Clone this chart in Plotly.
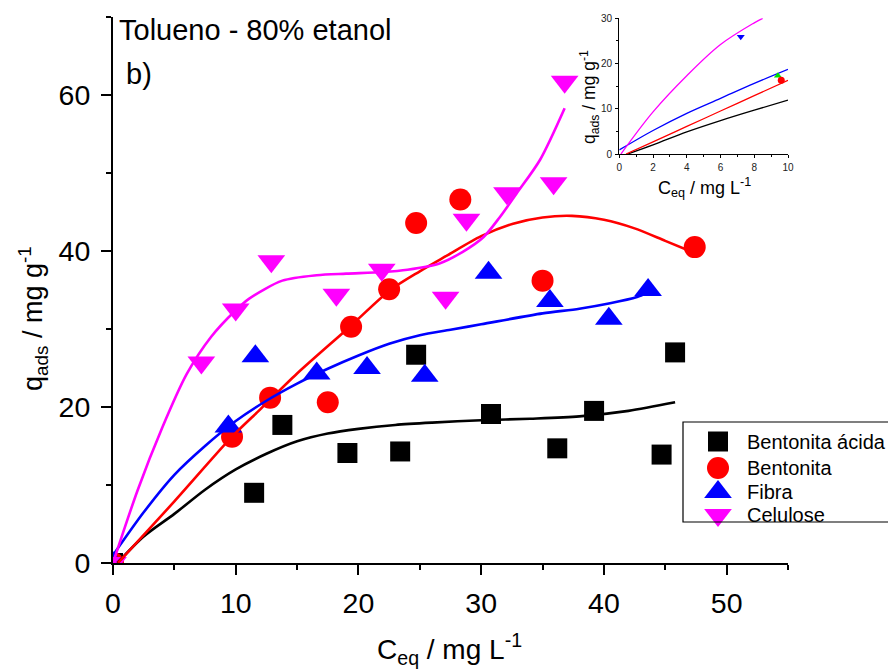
import plotly.graph_objects as go

# ---- measured isotherm points (Ceq in mg/L, q_ads in mg/g) ----
ba_x = [0, 11.5, 13.8, 19.1, 23.4, 24.7, 30.8, 36.2, 39.2, 44.7, 45.8]
ba_q = [0, 9.0, 17.7, 14.1, 14.3, 26.7, 19.1, 14.7, 19.5, 13.9, 27.0]

ben_x = [0, 9.7, 12.8, 17.5, 19.4, 22.5, 24.7, 28.3, 35.0, 47.4]
ben_q = [0, 16.2, 21.2, 20.6, 30.3, 35.1, 43.6, 46.6, 36.2, 40.5]

fib_x = [0, 9.4, 11.6, 16.6, 20.7, 25.4, 30.6, 35.6, 40.4, 43.6]
fib_q = [0, 17.5, 26.5, 24.3, 25.0, 24.0, 37.2, 33.6, 31.3, 35.0]

cel_x = [0, 7.2, 10.0, 12.9, 18.2, 21.9, 27.1, 28.8, 32.1, 35.9, 36.8]
cel_q = [0, 25.7, 32.5, 38.7, 34.4, 37.6, 34.0, 44.0, 47.4, 48.7, 61.7]

# ---- fitted curves ----
fit_ba_x = [0.35, 2.5, 5, 7.5, 10, 12.5, 15, 17.5, 20, 23, 26, 30, 34, 38, 42, 45.8]
fit_ba_q = [0, 3.4, 6.3, 9.4, 12.0, 14.0, 15.6, 16.6, 17.2, 17.7, 18.0, 18.3, 18.5, 18.8, 19.5, 20.6]

fit_ben_x = [0.4, 5, 9.7, 12, 15, 19.3, 22.6, 25, 27.2, 30, 32.6, 35, 37.4, 40, 42.5, 45, 47.3]
fit_ben_q = [0, 7.9, 16.2, 19.7, 24.3, 30.3, 35.0, 37.4, 39.4, 41.9, 43.5, 44.3, 44.5, 44.0, 42.9, 41.3, 39.8]

fit_fib_x = [0, 2.5, 5, 7.5, 10, 12.5, 15, 17.5, 20, 22.5, 25, 27.5, 30, 35, 38, 40.5, 42.7, 43.5]
fit_fib_q = [1.0, 6.5, 11.3, 15.0, 18.2, 20.8, 23.0, 24.9, 26.6, 28.1, 29.2, 29.9, 30.6, 32.0, 32.6, 33.3, 34.1, 34.6]

fit_cel_x = [0, 2, 4, 6, 8, 10, 11.1, 13.8, 16.6, 19, 22, 24, 26.6, 28.5, 30.2, 31.5, 32.9, 34.8, 36.8]
fit_cel_q = [0, 9.3, 17.3, 24.2, 29.0, 32.4, 33.9, 36.2, 36.9, 37.1, 37.3, 37.6, 38.4, 39.9, 41.8, 44.3, 47.4, 51.7, 58.3]

# ---- low-concentration detail (inset) ----
ins_ba_x = [0.5, 2, 4, 6, 8, 10]
ins_ba_q = [0, 2.0, 4.9, 7.4, 9.7, 11.9]
ins_ben_x = [0.4, 2, 4, 6, 8, 10]
ins_ben_q = [0, 2.7, 6.1, 9.5, 12.9, 16.3]
ins_fib_x = [0, 2, 4, 6, 8, 10]
ins_fib_q = [0.9, 5.2, 9.0, 12.3, 15.6, 18.7]
ins_cel_x = [0.1, 2, 4, 6, 8, 8.5]
ins_cel_q = [0, 9.3, 17.3, 24.2, 29.0, 30.0]
ins_pts_x = [7.2, 9.4, 9.6]
ins_pts_q = [25.9, 17.3, 16.3]

names = ["Bentonita ácida", "Bentonita", "Fibra", "Celulose"]
colors = ["#000000", "#FF0000", "#0000FF", "#FF00FF"]
symbols = ["square", "circle", "triangle-up", "triangle-down"]
sizes = [20, 22, 24, 24]

FONT = "Liberation Sans, Arial, sans-serif"
W, H = 888, 669
ML, MR, MT, MB = 113, 100, 17, 106
PW, PH = W - ML - MR, H - MT - MB

# legend box layout (page pixels)
LEG_BOX = (683, 422, 892, 522)      # left, top, right, bottom
LEG_SYM_X = 718
LEG_TXT_X = 745
LEG_ROWS = [441.5, 468, 492, 515]


def pxx(xpix):
    return (xpix - ML) / PW


def pxy(ypix):
    return (H - MB - ypix) / PH


fig = go.Figure()

pts = [(ba_x, ba_q), (ben_x, ben_q), (fib_x, fib_q), (cel_x, cel_q)]
fits = [(fit_ba_x, fit_ba_q), (fit_ben_x, fit_ben_q),
        (fit_fib_x, fit_fib_q), (fit_cel_x, fit_cel_q)]
ins = [(ins_ba_x, ins_ba_q), (ins_ben_x, ins_ben_q),
       (ins_fib_x, ins_fib_q), (ins_cel_x, ins_cel_q)]

for (x, q), n, c, s, sz in zip(pts, names, colors, symbols, sizes):
    fig.add_trace(go.Scatter(x=x, y=q, mode="markers", name=n,
                             showlegend=False,
                             marker=dict(color=c, symbol=s, size=sz,
                                         line=dict(width=0))))

for (x, q), c in zip(fits, colors):
    fig.add_trace(go.Scatter(x=x, y=q, mode="lines", showlegend=False,
                             line=dict(color=c, width=2.6, shape="spline",
                                       smoothing=0.8),
                             hoverinfo="skip"))

for (x, q), c in zip(ins, colors):
    fig.add_trace(go.Scatter(x=x, y=q, mode="lines", showlegend=False,
                             xaxis="x2", yaxis="y2",
                             line=dict(color=c, width=1.3, shape="spline"),
                             hoverinfo="skip"))

fig.add_trace(go.Scatter(x=ins_pts_x, y=ins_pts_q, mode="markers",
                         showlegend=False, xaxis="x2", yaxis="y2",
                         marker=dict(color=["#0000FF", "#00E000", "#FF0000"],
                                     symbol=["triangle-down", "triangle-up",
                                             "circle"],
                                     size=7, line=dict(width=0))))

# legend swatches on a hidden pixel-space overlay axis
fig.add_trace(go.Scatter(x=[LEG_SYM_X] * 4, y=LEG_ROWS, mode="markers",
                         showlegend=False, xaxis="x3", yaxis="y3",
                         cliponaxis=False, hoverinfo="skip",
                         marker=dict(color=colors, symbol=symbols,
                                     size=sizes, opacity=1,
                                     line=dict(width=0))))

axis_common = dict(showgrid=False, zeroline=False, showline=True,
                   linecolor="black", mirror=False, ticks="outside",
                   tickcolor="black")

fig.update_layout(
    width=W, height=H,
    margin=dict(l=ML, r=MR, t=MT, b=MB, pad=0, autoexpand=False),
    paper_bgcolor="white", plot_bgcolor="rgba(0,0,0,0)",
    font=dict(family=FONT, color="black"),
    showlegend=False,
    xaxis=dict(**axis_common, range=[0, 55], dtick=10, linewidth=2,
               tickwidth=2, ticklen=10, tickfont=dict(size=28.5),
               ticklabelstandoff=4,
               minor=dict(dtick=5, ticklen=5, tickwidth=2, ticks="outside",
                          tickcolor="black")),
    yaxis=dict(**axis_common, range=[0, 70], dtick=20, linewidth=2,
               tickwidth=2, ticklen=10, tickfont=dict(size=28.5),
               ticklabelstandoff=5,
               minor=dict(dtick=10, ticklen=5, tickwidth=2, ticks="outside",
                          tickcolor="black")),
    xaxis2=dict(**axis_common, domain=[pxx(619.3), pxx(788)], anchor="y2",
                range=[0, 10], dtick=2, linewidth=1.3, tickwidth=1.2,
                ticklen=3, tickfont=dict(size=10, color="#222"),
                ticklabelstandoff=1,
                minor=dict(dtick=1, ticklen=2, tickwidth=1, ticks="outside",
                           tickcolor="black")),
    yaxis2=dict(**axis_common, domain=[pxy(154), pxy(18.3)], anchor="x2",
                range=[0, 30], dtick=10, linewidth=1.3, tickwidth=1.2,
                ticklen=3, tickfont=dict(size=10, color="#222"),
                ticklabelstandoff=1,
                minor=dict(dtick=5, ticklen=2, tickwidth=1, ticks="outside",
                           tickcolor="black")),
    xaxis3=dict(domain=[0, 1], range=[ML, W - MR], visible=False,
                anchor="y3", overlaying="x", fixedrange=True),
    yaxis3=dict(domain=[0, 1], range=[H - MB, MT], visible=False,
                anchor="x3", overlaying="y", fixedrange=True),
    shapes=[dict(type="rect", xref="paper", yref="paper",
                 x0=pxx(LEG_BOX[0]), x1=pxx(LEG_BOX[2]),
                 y0=pxy(LEG_BOX[3]), y1=pxy(LEG_BOX[1]),
                 line=dict(color="black", width=1.2),
                 fillcolor="rgba(0,0,0,0)", layer="above")],
)

annotations = [
    dict(text="Tolueno - 80% etanol", x=pxx(117), y=pxy(12), xanchor="left",
         yanchor="top", font=dict(size=29)),
    dict(text="b)", x=pxx(124), y=pxy(56), xanchor="left", yanchor="top",
         font=dict(size=29)),
    dict(text="q<sub>ads</sub> / mg g<sup>-1</sup>", x=pxx(33), y=pxy(319),
         xanchor="center", yanchor="middle", textangle=-90,
         font=dict(size=27)),
    dict(text="C<sub>eq</sub> / mg L<sup>-1</sup>", x=pxx(449), y=pxy(649),
         xanchor="center", yanchor="middle", font=dict(size=28)),
    dict(text="q<sub>ads</sub> / mg g<sup>-1</sup>", x=pxx(589), y=pxy(97),
         xanchor="center", yanchor="middle", textangle=-90,
         font=dict(size=17.5)),
    dict(text="C<sub>eq</sub> / mg L<sup>-1</sup>", x=pxx(704), y=pxy(187),
         xanchor="center", yanchor="middle", font=dict(size=18)),
]
for n, yrow in zip(names, LEG_ROWS):
    annotations.append(dict(text=n, x=pxx(LEG_TXT_X), y=pxy(yrow),
                            xanchor="left", yanchor="middle",
                            font=dict(size=20)))
for a in annotations:
    a.update(xref="paper", yref="paper", showarrow=False)
fig.update_layout(annotations=annotations)

fig.write_html("out.html")
